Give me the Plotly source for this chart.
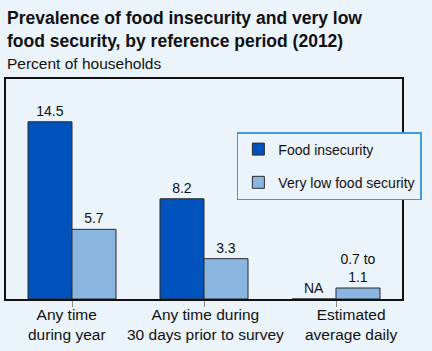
import plotly.graph_objects as go

categories = ["Any time during year", "Any time during 30 days prior to survey", "Estimated average daily"]
tick_labels = ["Any time<br>during year", "Any time during<br>30 days prior to survey", "Estimated<br>average daily"]
food_insecurity = [14.5, 8.2, 0]
food_insecurity_text = ["14.5", "8.2", "NA"]
very_low = [5.7, 3.3, 0.9]
very_low_text = ["5.7", "3.3", "0.7 to<br>1.1"]

BG = "#EBF3FB"
FONT = "Liberation Sans, Arial, Helvetica, sans-serif"

fig = go.Figure()
fig.add_trace(go.Bar(
    x=categories, y=food_insecurity, name="Food insecurity",
    text=food_insecurity_text, textposition="outside", cliponaxis=False,
    marker=dict(color="#0052BC", line=dict(color="#2b2b2b", width=1)),
    textfont=dict(size=14, color="#111", family=FONT),
    legendgroup="a",
))
fig.add_trace(go.Bar(
    x=categories, y=very_low, name="Very low food security",
    text=very_low_text, textposition="outside", cliponaxis=False,
    marker=dict(color="#8AB6E1", line=dict(color="#2b2b2b", width=1)),
    textfont=dict(size=14, color="#111", family=FONT),
    legendgroup="b",
))

shifts = [-5, 1, 15]
for cat, lab, s in zip(categories, tick_labels, shifts):
    fig.add_annotation(x=cat, y=0, xref="x", yref="y", text=lab, showarrow=False,
                       yanchor="top", yshift=-5, xshift=s,
                       font=dict(size=15.5, color="#111", family=FONT))

fig.add_annotation(x=0, y=1, xref="paper", yref="paper", text="Percent of households",
                   showarrow=False, xanchor="left", yanchor="bottom", yshift=5, xshift=-1,
                   font=dict(size=15.5, color="#111", family=FONT))

fig.add_annotation(x=0, y=1, xref="paper", yref="paper",
                   text="<b>Prevalence of food insecurity and very low<br>food security, by reference period (2012)</b>",
                   showarrow=False, xanchor="left", yanchor="bottom", align="left", yshift=26, xshift=-1,
                   font=dict(size=17.5, color="#111", family=FONT))

fig.update_layout(
    width=432, height=351,
    margin=dict(l=6, r=30, t=79, b=52),
    paper_bgcolor=BG, plot_bgcolor=BG,
    barmode="group", bargap=1/3, bargroupgap=0,
    legend=dict(x=0.583, y=0.759, xanchor="left", yanchor="top", bgcolor=BG,
                bordercolor="#3C9BE0", borderwidth=1.5, tracegroupgap=12,
                traceorder="grouped",
                font=dict(size=14, color="#111", family=FONT)),
    showlegend=True,
)
fig.update_xaxes(range=[-0.5, 2.5], showticklabels=False, ticks="outside", ticklen=6,
                 tickcolor="#888", tickwidth=1, showline=True, linecolor="#111", linewidth=1.5,
                 mirror=True, showgrid=False, zeroline=False)
fig.update_yaxes(range=[0, 18], showticklabels=False, showgrid=False, zeroline=False,
                 showline=True, linecolor="#111", linewidth=1.5, mirror=True)

fig.write_html("out.html")
